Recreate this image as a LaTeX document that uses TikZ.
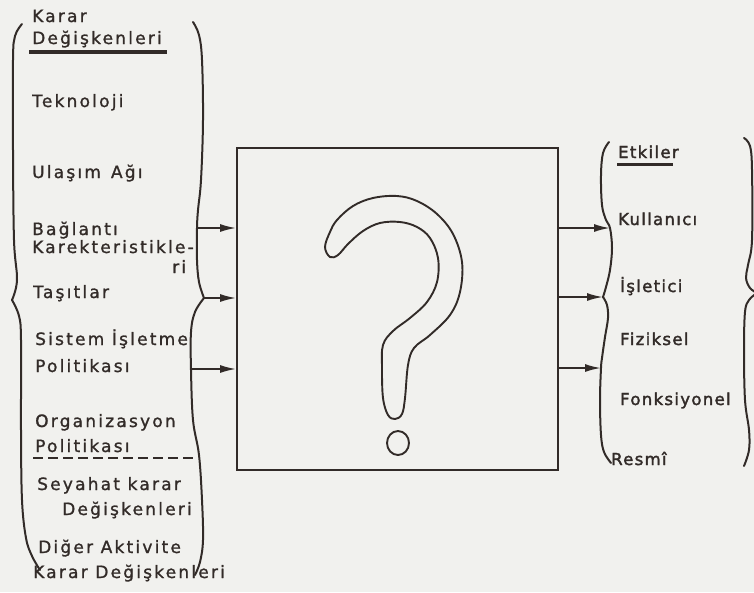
\documentclass[tikz,border=0pt]{standalone}
\usepackage{fontspec}
\setmainfont{DejaVu Sans}
\newfontfamily\leftfont[LetterSpace=13,FakeBold=1.2]{DejaVu Sans}
\newfontfamily\rightfont[LetterSpace=8,FakeBold=2]{DejaVu Sans}
\usetikzlibrary{arrows.meta}
\definecolor{ink}{RGB}{50,43,40}
\definecolor{paper}{RGB}{241,241,238}
\tikzset{
  lbl/.style={inner sep=0pt, anchor=base west, text=ink, font=\leftfont\fontsize{17}{19}\selectfont},
  rlbl/.style={inner sep=0pt, anchor=base west, text=ink, font=\rightfont\fontsize{16.5}{18}\selectfont},
  brk/.style={draw=ink, line width=2pt, line cap=round, line join=round},
  arr/.style={draw=ink, line width=1.8pt, -{Latex[length=16pt,width=8pt]}},
  boxst/.style={draw=ink, line width=1.8pt, minimum width=321pt, minimum height=322pt, inner sep=0pt},
}
\begin{document}
\begin{tikzpicture}[x=1pt,y=-1pt]
\fill[paper] (0,0) rectangle (754,592);
\useasboundingbox (0,0) rectangle (754,592);

% central box
\node[boxst] (box) at (397.5,309) {};

% question mark outline
\draw[brk, line width=1.9pt] plot[smooth cycle, tension=0.6] coordinates {
 (325,247) (330,232) (337,220) (353,206) (373,198) (397,196) (417,201) (437,214)
 (453,234) (462,262) (460,292) (450,315) (430,335) (414,348) (408,365) (405,398)
 (402,414) (395,419) (388,415) (383,398) (382,368) (383,345) (393,331) (410,318)
 (427,302) (437,282) (438,258) (430,238) (417,227) (400,222) (380,223) (363,231)
 (348,244) (338,255) (330,257)};
\draw[brk, line width=1.9pt] (398,443) ellipse [x radius=11, y radius=12];

% left column texts
\node[lbl] (k1) at (32,22) {Karar};
\node[lbl] (k2) at (32,44) {Değişkenleri};
\draw[ink, line width=3.5pt] (29,52) -- (167,52);
\node[lbl] (t1) at (32,107) {Teknoloji};
\node[lbl] (t2) at (32,178) {Ulaşım\hspace{10pt}Ağı};
\node[lbl] (t3) at (32,235) {Bağlantı};
\node[lbl] (t4) at (32,253) {Karekteristikle-};
\node[lbl] (t5) at (172,273) {ri};
\node[lbl] (t6) at (33,298) {Taşıtlar};
\node[lbl] (t7) at (35,345) {Sistem İşletme};
\node[lbl] (t8) at (35,372) {Politikası};
\node[lbl] (t9) at (35,427) {Organizasyon};
\node[lbl] (t10) at (35,452) {Politikası};
\draw[ink, line width=1.4pt, dash pattern=on 10pt off 5pt] (33,458) -- (194,458);
\node[lbl] (t11) at (37,490) {Seyahat karar};
\node[lbl] (t12) at (62,515) {Değişkenleri};
\node[lbl] (t13) at (38,553) {Diğer Aktivite};
\node[lbl] (t14) at (33,578) {Karar Değişkenleri};

% left outer brace
\draw[brk] plot[smooth, tension=0.6] coordinates {(22,24) (15,36) (13,60) (13,150) (14,240) (17,280) (12,300)};
\draw[brk] plot[smooth, tension=0.6] coordinates {(12,300) (19,316) (21,340) (21,430) (22,500) (26,538) (32,556) (40,570)};

% right side of left column
\draw[brk] plot[smooth, tension=0.6] coordinates {(193,22) (199,35) (202,60) (203,120) (201,180) (198,210) (197,228) (197,260) (199,282) (204,298)};
\draw[brk] plot[smooth, tension=0.6] coordinates {(204,298) (195,312) (191,332) (191,370) (193,420) (199,455) (202,500) (203,540) (200,562) (195,575)};

\coordinate (L1) at (197,228);
\coordinate (L2) at (204,298);
\coordinate (L3) at (191,369);
\draw[arr] (L1) -- (L1 -| box.west);
\draw[arr] (L2) -- (L2 -| box.west);
\draw[arr] (L3) -- (L3 -| box.west);

% right column brace
\draw[brk] plot[smooth, tension=0.6] coordinates {(609,142) (603,153) (601,175) (602,205) (606,220) (610,228) (612,248) (610,270) (606,287) (603,297)};
\draw[brk] plot[smooth, tension=0.6] coordinates {(603,297) (607,305) (608,318) (605,337) (602,358) (601,368) (600,400) (601,435) (604,452) (611,463)};

\coordinate (R1) at (610,228);
\coordinate (R2) at (603,297);
\coordinate (R3) at (601,368);
\draw[arr] (R1 -| box.east) -- (R1);
\draw[arr] (R2 -| box.east) -- (R2);
\draw[arr] (R3 -| box.east) -- (R3);

% right column texts
\node[rlbl] (e0) at (618,158) {Etkiler};
\draw[ink, line width=3pt] (617,164) -- (673,164);
\node[rlbl] (e1) at (618,225) {Kullanıcı};
\node[rlbl] (e2) at (620,292) {İşletici};
\node[rlbl] (e3) at (620,345) {Fiziksel};
\node[rlbl] (e4) at (620,405) {Fonksiyonel};
\node[rlbl] (e5) at (611,465) {Resmî};

% far right brace
\draw[brk] plot[smooth, tension=0.6] coordinates {(744,138) (750,146) (752,170) (752,240) (748,265) (746,278) (750,288) (757,293)};
\draw[brk] plot[smooth, tension=0.6] coordinates {(757,293) (749,300) (745,312) (744,350) (745,400) (749,430) (749,450) (744,466)};
\end{tikzpicture}
\end{document}
